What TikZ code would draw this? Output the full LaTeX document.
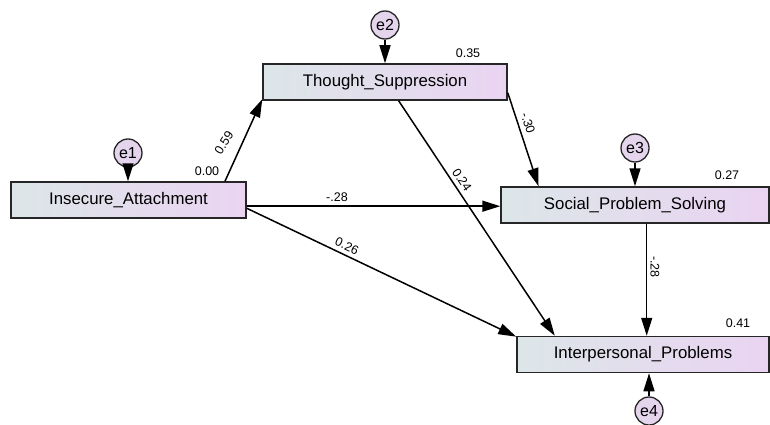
\documentclass[tikz,border=0pt]{standalone}
\usepackage{fontspec}
\setmainfont{Liberation Sans}
\usetikzlibrary{arrows.meta}
\definecolor{boxleft}{HTML}{DCE6E8}
\definecolor{boxright}{HTML}{EAD4F2}
\definecolor{errfill}{HTML}{E4D4EC}
\begin{document}
\begin{tikzpicture}[x=1pt, y=-1pt,
    obs/.style={draw=black!85, line width=1.5pt, left color=boxleft, right color=boxright, minimum height=36pt, inner sep=0pt, font=\fontsize{16.8}{19}\selectfont},
    err/.style={circle, draw=black!85, line width=1.3pt, fill=errfill, minimum size=28pt, inner sep=0pt, font=\fontsize{16}{18}\selectfont},
    path/.style={line width=1.5pt, -{Triangle[length=18pt,width=11pt]}},
    est/.style={font=\fontsize{12.5}{14}\selectfont, inner sep=1pt}]
            \useasboundingbox (0,0) rectangle (770,425);

            % Observed variables
            \node[obs, minimum width=235pt] (IA)  at (128.5,200) {Insecure\_Attachment};
            \node[obs, minimum width=244pt] (TS)  at (385,82)    {Thought\_Suppression};
            \node[obs, minimum width=268pt] (SPS) at (635,205)   {Social\_Problem\_Solving};
            \node[obs, minimum width=252pt] (IP)  at (643,354.5) {Interpersonal\_Problems};

            % Error terms
            \node[err] (e1) at (128,153) {e1};
            \node[err] (e2) at (385,25)  {e2};
            \node[err] (e3) at (635,148) {e3};
            \node[err] (e4) at (649,411) {e4};
            \draw[path] (e1) -- (e1 |- IA.north);
            \draw[path] (e2) -- (e2 |- TS.north);
            \draw[path] (e3) -- (e3 |- SPS.north);
            \draw[path] (e4) -- (e4 |- IP.south);

            % Paths
            \draw[path] (IA.11.5) -- (TS.188.7);
            \draw[path] (IA.-3.4) -- (IA.-3.4 -| SPS.west);
            \draw[path] (IA.-4.9) -- (IP.172);
            \draw[path] (TS.-54) -- (IP.168.4);
            \draw[path] (TS.-5.2) -- (SPS.169.5);
            \draw[path] (SPS.-58.6) -- (SPS.-58.6 |- IP.north);

            % Estimates
            \node[est] (rIA)  at (207,171) {0.00};
            \node[est] (rTS)  at (468,53)  {0.35};
            \node[est] (rSPS) at (727,175) {0.27};
            \node[est] (rIP)  at (738,323) {0.41};
            \node[est, rotate=58]    (wIATS)  at (224,143) {0.59};
            \node[est]               (wIASPS) at (337,197) {-.28};
            \node[est, rotate=-25]   (wIAIP)  at (347,246) {0.26};
            \node[est, rotate=-56.6] (wTSIP)  at (462,180) {0.24};
            \node[est, rotate=-71.6] (wTSSPS) at (528,123) {-.30};
            \node[est, rotate=-90]   (wSPSIP) at (655,267) {-.28};
\end{tikzpicture}
\end{document}
